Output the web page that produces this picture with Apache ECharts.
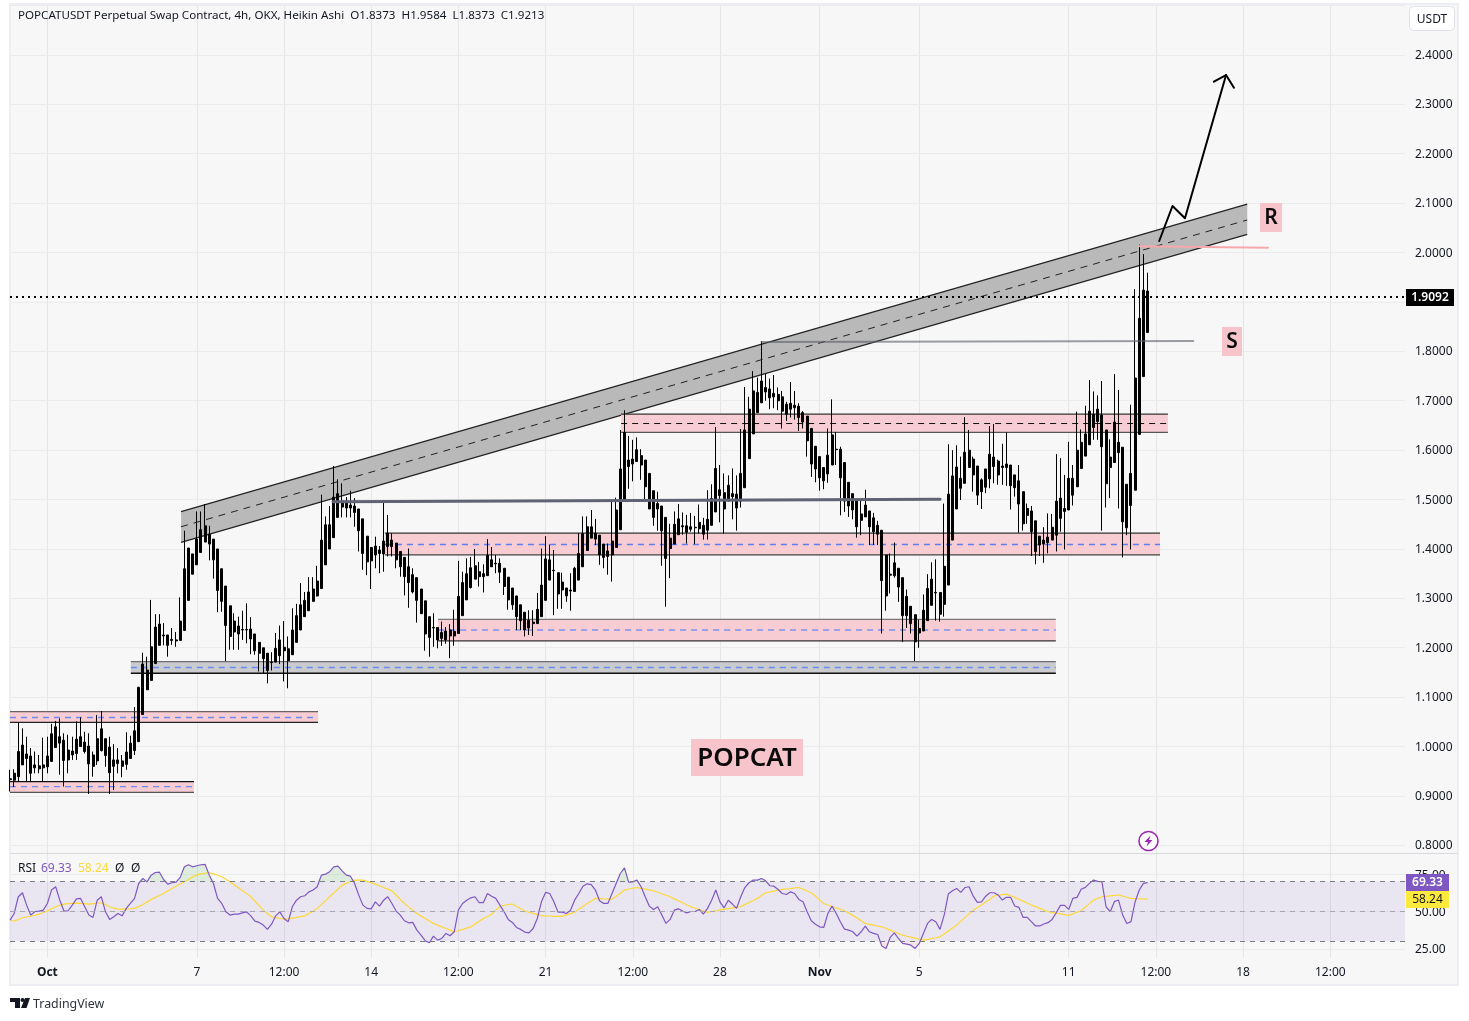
<!DOCTYPE html>
<html>
<head>
  <meta charset="utf-8">
  <title>POPCATUSDT 4h</title>
  <script src="https://cdn.jsdelivr.net/npm/echarts@6/dist/echarts.min.js"></script>
  <style>
    html, body { margin: 0; padding: 0; background: #fff; }
    #chart { width: 1469px; height: 1021px; }
  </style>
</head>
<body>
  <div id="chart"></div>
  <script>
    // candles, 4h Heikin Ashi
    const opens = [
      .932,.931,.938,.962,.984,.980,.962,.960,.956,.958,
      .969,.997,1.019,1.012,.992,.982,.985,.999,1.008,1.000,
      .982,.970,.991,1.015,.998,.972,.965,.970,.963,.975,
      .991,1.009,1.064,1.114,1.133,1.167,1.204,1.225,1.225,1.214,
      1.215,1.214,1.234,1.295,1.389,1.367,1.392,1.413,1.429,1.419,
      1.399,1.359,1.324,1.284,1.231,1.243,1.236,1.235,1.237,1.227,
      1.210,1.199,1.188,1.169,1.170,1.183,1.200,1.197,1.185,1.210,
      1.235,1.262,1.274,1.293,1.304,1.319,1.367,1.399,1.422,1.463,
      1.484,1.493,1.482,1.486,1.480,1.460,1.425,1.402,1.387,1.397,
      1.389,1.404,1.417,1.411,1.394,1.382,1.363,1.347,1.341,1.318,
      1.294,1.262,1.240,1.240,1.218,1.215,1.223,1.232,1.228,1.264,
      1.296,1.321,1.338,1.353,1.349,1.345,1.363,1.369,1.370,1.360,
      1.342,1.320,1.304,1.286,1.271,1.239,1.248,1.248,1.262,1.295,
      1.336,1.355,1.351,1.316,1.320,1.314,1.313,1.336,1.363,1.396,
      1.421,1.419,1.427,1.409,1.384,1.387,1.402,1.438,1.498,1.566,
      1.571,1.576,1.588,1.579,1.552,1.517,1.491,1.486,1.463,1.400,
      1.409,1.428,1.444,1.446,1.439,1.443,1.440,1.447,1.437,1.447,
      1.474,1.507,1.513,1.496,1.505,1.510,1.496,1.523,1.582,1.632,
      1.675,1.695,1.717,1.723,1.714,1.712,1.707,1.692,1.682,1.690,
      1.688,1.675,1.668,1.643,1.607,1.586,1.564,1.551,1.569,1.600,
      1.601,1.574,1.534,1.511,1.496,1.470,1.464,1.476,1.462,1.447,
      1.437,1.387,1.348,1.345,1.360,1.341,1.303,1.283,1.266,1.229,
      1.233,1.254,1.285,1.310,1.311,1.287,1.326,1.417,1.480,1.542,
      1.532,1.564,1.581,1.567,1.515,1.524,1.541,1.585,1.577,1.564,
      1.564,1.569,1.549,1.537,1.515,1.481,1.476,1.456,1.407,1.409,
      1.412,1.417,1.427,1.461,1.481,1.478,1.508,1.525,1.562,1.587,
      1.610,1.672,1.657,1.670,1.640,1.564,1.574,1.615,1.605,1.530,
      1.487,1.518,1.631,1.748,1.8373
    ];
    const closes = [
      .934,.945,.989,1.002,.975,.945,.956,.954,.962,.980,
      1.025,1.039,1.006,.971,.972,.990,1.014,1.019,.989,.964,
      .959,1.015,1.035,.981,.946,.959,.972,.959,.988,1.006,
      1.031,1.119,1.166,1.154,1.201,1.241,1.247,1.223,1.204,1.216,
      1.213,1.253,1.359,1.401,1.348,1.419,1.438,1.446,1.409,1.377,
      1.315,1.293,1.244,1.222,1.253,1.227,1.235,1.236,1.217,1.193,
      1.188,1.177,1.153,1.170,1.198,1.215,1.193,1.173,1.235,1.264,
      1.286,1.295,1.312,1.318,1.334,1.417,1.448,1.448,1.504,1.511,
      1.496,1.482,1.488,1.473,1.436,1.390,1.373,1.375,1.405,1.390,
      1.415,1.431,1.404,1.377,1.363,1.343,1.331,1.312,1.295,1.268,
      1.227,1.220,1.239,1.215,1.230,1.233,1.235,1.223,1.303,1.331,
      1.349,1.361,1.365,1.343,1.343,1.386,1.377,1.370,1.352,1.323,
      1.296,1.286,1.262,1.254,1.235,1.255,1.251,1.277,1.326,1.379,
      1.377,1.356,1.308,1.332,1.304,1.316,1.360,1.390,1.430,1.444,
      1.444,1.431,1.387,1.382,1.395,1.415,1.478,1.561,1.635,1.579,
      1.581,1.600,1.569,1.525,1.480,1.463,1.480,1.436,1.380,1.421,
      1.449,1.460,1.446,1.433,1.444,1.442,1.453,1.429,1.459,1.501,
      1.562,1.519,1.480,1.528,1.511,1.482,1.552,1.640,1.682,1.719,
      1.716,1.739,1.726,1.705,1.707,1.699,1.678,1.672,1.694,1.685,
      1.665,1.656,1.618,1.571,1.561,1.543,1.537,1.589,1.630,1.601,
      1.543,1.496,1.486,1.478,1.444,1.457,1.488,1.444,1.434,1.429,
      1.335,1.304,1.346,1.371,1.322,1.264,1.264,1.248,1.211,1.238,
      1.275,1.319,1.338,1.311,1.267,1.364,1.510,1.547,1.565,1.522,
      1.595,1.599,1.549,1.508,1.539,1.561,1.591,1.566,1.549,1.567,
      1.571,1.527,1.523,1.490,1.450,1.467,1.434,1.394,1.425,1.417,
      1.423,1.443,1.496,1.502,1.475,1.542,1.542,1.599,1.615,1.632,
      1.678,1.645,1.682,1.606,1.531,1.585,1.656,1.594,1.454,1.442,
      1.552,1.745,1.866,1.923,1.9213
    ];
    const lows = [
      .908,.917,.928,.962,.928,.928,.945,.945,.928,.945,
      .969,.997,.942,.918,.945,.972,.972,.999,.985,.903,
      .938,.962,.989,.958,.903,.911,.945,.937,.952,.975,
      .982,1.009,1.064,1.114,1.133,1.167,1.204,1.204,1.181,1.205,
      1.201,1.214,1.234,1.295,1.348,1.367,1.392,1.413,1.376,1.339,
      1.271,1.272,1.172,1.195,1.195,1.195,1.215,1.208,1.186,1.185,
      1.151,1.148,1.127,1.153,1.170,1.166,1.131,1.117,1.185,1.210,
      1.235,1.262,1.274,1.293,1.303,1.319,1.367,1.399,1.422,1.463,
      1.463,1.463,1.463,1.444,1.394,1.357,1.346,1.318,1.360,1.350,
      1.353,1.384,1.384,1.360,1.343,1.305,1.280,1.309,1.250,1.268,
      1.193,1.181,1.201,1.198,1.203,1.207,1.178,1.203,1.228,1.264,
      1.296,1.319,1.338,1.323,1.311,1.345,1.363,1.350,1.330,1.306,
      1.276,1.276,1.235,1.235,1.222,1.225,1.223,1.248,1.262,1.295,
      1.336,1.265,1.278,1.278,1.292,1.274,1.313,1.336,1.363,1.396,
      1.421,1.407,1.367,1.360,1.347,1.333,1.402,1.438,1.498,1.521,
      1.536,1.576,1.539,1.495,1.480,1.446,1.436,1.365,1.282,1.340,
      1.409,1.428,1.428,1.410,1.434,1.409,1.430,1.418,1.418,1.447,
      1.474,1.453,1.430,1.496,1.459,1.436,1.483,1.523,1.582,1.632,
      1.675,1.695,1.699,1.682,1.684,1.680,1.643,1.658,1.665,1.661,
      1.638,1.643,1.586,1.545,1.534,1.517,1.520,1.533,1.569,1.569,
      1.467,1.474,1.464,1.459,1.422,1.427,1.464,1.407,1.407,1.407,
      1.228,1.274,1.309,1.341,1.292,1.211,1.239,1.228,1.172,1.199,
      1.233,1.254,1.285,1.254,1.252,1.262,1.326,1.417,1.480,1.498,
      1.532,1.564,1.515,1.488,1.480,1.512,1.522,1.532,1.529,1.529,
      1.527,1.479,1.505,1.432,1.436,1.450,1.385,1.368,1.385,1.371,
      1.390,1.417,1.394,1.434,1.398,1.478,1.487,1.525,1.562,1.587,
      1.610,1.620,1.620,1.436,1.483,1.502,1.574,1.481,1.382,1.427,
      1.398,1.518,1.631,1.748,1.8373
    ];
    const highs = [
      .952,.953,1.048,1.036,1.019,.996,.989,.982,1.017,1.019,
      1.045,1.051,1.056,1.026,1.023,1.019,1.050,1.058,1.029,1.026,
      .989,1.063,1.071,1.015,1.019,1.004,.996,.982,1.028,1.021,
      1.079,1.120,1.189,1.181,1.296,1.267,1.267,1.249,1.225,1.239,
      1.231,1.301,1.436,1.401,1.389,1.475,1.475,1.490,1.446,1.419,
      1.399,1.359,1.324,1.284,1.269,1.262,1.274,1.289,1.261,1.227,
      1.210,1.199,1.188,1.190,1.229,1.244,1.253,1.222,1.279,1.288,
      1.330,1.312,1.342,1.342,1.365,1.509,1.465,1.486,1.567,1.540,
      1.532,1.504,1.517,1.502,1.480,1.460,1.425,1.403,1.424,1.405,
      1.495,1.468,1.431,1.411,1.394,1.383,1.400,1.360,1.341,1.318,
      1.294,1.262,1.269,1.240,1.252,1.241,1.247,1.276,1.375,1.353,
      1.380,1.383,1.399,1.373,1.368,1.419,1.403,1.387,1.380,1.360,
      1.342,1.320,1.304,1.286,1.271,1.275,1.275,1.310,1.400,1.425,
      1.408,1.397,1.351,1.351,1.320,1.350,1.363,1.431,1.465,1.465,
      1.478,1.460,1.427,1.409,1.410,1.495,1.503,1.640,1.680,1.628,
      1.620,1.625,1.601,1.579,1.552,1.517,1.515,1.486,1.463,1.450,
      1.475,1.490,1.473,1.468,1.472,1.466,1.489,1.462,1.518,1.530,
      1.646,1.569,1.552,1.548,1.562,1.548,1.642,1.727,1.707,1.759,
      1.746,1.820,1.754,1.744,1.751,1.726,1.719,1.697,1.737,1.719,
      1.694,1.678,1.668,1.643,1.607,1.586,1.564,1.643,1.702,1.636,
      1.606,1.574,1.534,1.511,1.496,1.498,1.519,1.476,1.472,1.456,
      1.437,1.387,1.390,1.412,1.360,1.341,1.317,1.283,1.266,1.256,
      1.307,1.348,1.372,1.378,1.311,1.491,1.611,1.599,1.609,1.586,
      1.666,1.640,1.586,1.567,1.542,1.561,1.648,1.652,1.580,1.612,
      1.635,1.569,1.549,1.569,1.515,1.491,1.486,1.456,1.425,1.443,
      1.471,1.470,1.591,1.583,1.549,1.616,1.569,1.677,1.641,1.689,
      1.741,1.718,1.710,1.739,1.640,1.621,1.753,1.721,1.605,1.530,
      1.691,1.925,2.015,1.996,1.9584
    ];

    const rsiValues = [
      44.1,48.6,59.8,62.5,54.2,47.5,49.9,50.2,50.8,55.3,
      64.3,66.5,57.5,50.2,50.4,54.2,58.4,58.7,53.1,47.5,
      45.9,57.5,59.8,49.7,44.6,46.4,48.6,47,52,55.3,
      58.7,68.7,72.1,69.8,74.3,76.1,76.3,71.4,68.3,69.2,
      69.6,72.8,79.9,81.3,79.9,80.6,81.3,81.5,74.3,68.7,
      58.7,55.3,49.7,47.5,48.1,48.1,49,49.7,47,43.4,
      42.6,40.8,37.9,41.4,47,49.7,45.2,43,53.1,57.5,
      59.8,60.5,63.1,64.3,66.5,74.3,75,76.6,79.9,80.4,
      77.2,74.3,73.6,68.7,60.9,54.2,52,51.7,56.4,53.5,
      57.5,59.8,55.3,50.2,47.5,43.7,42.3,42.6,37.4,34,
      30.3,28.9,33.4,30.7,31.8,35.2,33.6,36.3,50.8,55.3,
      57.5,59.1,59.8,55.8,55.8,62,60.2,58.7,54.2,49.7,
      44.6,42.6,39.2,37.9,36.1,35.6,38.5,45.2,56.4,62.7,
      62,56.4,49.5,49.5,48.6,50.8,57.5,62,66.9,68.5,
      68,64.3,57.1,55.3,55.3,62,68.7,75.4,79.2,69.6,
      69.8,71,66.5,59.8,53.5,51.3,53.1,47.5,41.9,44.6,
      50.8,51.7,50.2,49,49.9,49.9,51.3,48.1,52,57.5,
      64.3,56.4,52.4,57.5,54.9,52,59.8,66,69.2,71,
      71,72.1,70.5,67.2,66.9,64.7,62,61.3,63.1,62,
      58,56.4,49.7,43.7,41.4,39.6,39.2,48.6,53.5,48.6,
      43,38.1,37.4,36.3,33.4,36.3,40.1,36.3,35.2,34.5,
      26.7,25.1,32.5,35.6,31.8,28.5,28,27.3,25.1,28.5,
      35.2,41.9,44.6,43,37.9,47.5,61.6,63.8,65.4,62.7,
      66,66.5,60.2,56,56.4,60.2,62.5,62.5,61,57.6,
      59.4,59.4,53.6,52.7,46,46,43.1,40.2,40.2,41.5,
      42.4,44.6,49.1,54,54,51.3,58.7,59.4,64.8,66.1,
      68.8,71,70.1,69.9,53.1,49.8,56.5,57.6,47.5,41.9,
      43.1,56.5,64.3,68.8,69.33
    ];
    const rsiMa = [
      44.6,43.4,44.5,45.7,46.2,46.8,47.4,48.1,49.2,50.2,
      51.7,53.1,54.1,54.9,55.2,55.4,55.5,55.4,55.2,54.9,
      55.2,55.5,55.8,54.6,53.1,52.2,51.5,51.5,51.7,51.8,
      52,53.2,54.6,56.2,58,59.4,60.7,62,63.7,65.3,
      66.9,68.4,69.9,71.4,73,74.5,75.2,75.6,75.9,75.2,
      74.2,73.2,71.5,69.7,67.8,65.9,63.9,61.9,59.8,56.8,
      53.8,50.8,48.6,46.4,45.8,45.2,44.8,45,45.4,46,
      46.5,47,48.5,50.2,52,54.5,57.2,59.8,62.4,65,
      67.6,68.8,70,71,71,71,70.1,69.2,68.3,67.2,
      66,64.9,63.8,61,58,55.3,53,50.8,48.6,46.9,
      45.2,43.6,41.9,40.8,39.6,38.5,37.4,36.3,37,37.9,
      38.8,39.6,41.5,43.3,45.2,46.6,48.1,50.8,53.3,54.1,
      54.6,54.9,53.4,51.8,50.2,49.4,48.7,48,47.2,47,
      46.9,46.7,46.6,46.6,47.6,48.5,49.5,51.5,53.3,55.2,
      57,58.7,58.6,58.4,58.3,58.2,60.2,62.2,64.3,65,
      65.5,66,65.4,64.9,64.4,63.8,62.8,61.8,60.8,59.8,
      58.4,57.1,55.8,54.4,53.1,52.1,51.1,50.2,49.3,49.9,
      50.4,51,51.5,51.9,52.3,52.7,53.1,54.5,55.9,57.3,
      58.7,60.6,62.5,63,63.6,64.2,64.7,65,65.3,65.7,
      66,64.9,63.7,62.5,60.1,57.7,55.3,54.3,53.3,52.3,
      51.4,50.4,48.9,47.3,45.6,43.7,41.9,41.3,40.8,40.2,
      39.6,38.5,37.4,36.2,35.1,34,33.3,32.7,32,31.4,
      30.7,31.2,31.8,32.3,32.9,34.8,36.8,38.8,40.8,43.3,
      45.8,48.3,50.8,52.6,54.3,56.3,58,60.3,60.8,61.2,
      61.6,60.5,59.4,58.1,56.9,55.6,54.3,53.2,52,50.9,
      49.8,49.3,48.8,48.3,47.8,47.3,48.3,49.4,50.4,52.8,
      55.2,57.6,58.7,59.8,60.1,60.4,60.7,61,60.2,59.5,
      58.7,58.5,58.4,58.3,58.24
    ];

    // axes
    const barCount = 337; // bars across the whole plot, the last ones are empty
    const bars = Array.from({ length: barCount }, (_, i) => String(i));
    const timeTickBars = [9, 45, 66, 87, 108, 129, 150, 171, 195, 219, 255, 276, 297, 318];
    const timeTickLabels = ['Oct', '7', '12:00', '14', '12:00', '21', '12:00', '28', 'Nov', '5', '11', '12:00', '18', '12:00'];
    const priceLabels = [2.4, 2.3, 2.2, 2.1, 2.0, 1.8, 1.7, 1.6, 1.5, 1.4, 1.3, 1.2, 1.1, 1.0, 0.9, 0.8];
    const priceLevels = [2.5, 2.4, 2.3, 2.2, 2.1, 2.0, 1.9, 1.8, 1.7, 1.6, 1.5, 1.4, 1.3, 1.2, 1.1, 1.0, 0.9, 0.8];
    const rsiLabels = [75, 50, 25];
    const lastPrice = 1.9092;

    // zones drawn on the chart: bar from/to and prices
    const zoneStart = [0, 0, 29.1, 90.3, 103.1, 147.2];
    const zoneEnd = [74.2, 44.3, 251.9, 277, 251.9, 278.9];
    const zoneTop = [1.0696, 0.928, 1.171, 1.431, 1.2566, 1.672];
    const zoneBottom = [1.048, 0.9065, 1.1475, 1.387, 1.213, 1.635];
    const zoneMid = [1.058, 0.918, 1.159, 1.408, 1.235, 1.653];

    const channelBars = [41.2, 298];
    const channelTop = [1.4745, 2.097];
    const channelBottom = [1.4125, 2.036];
    const channelMid = [1.444, 2.065];

    const midLine = [[77.8, 1.4947], [224, 1.4996]];
    const supportLine = [[181, 1.818], [285, 1.820]];
    const redLine = [[272, 2.012], [303, 2.009]];
    const arrowPath = [[276.8, 2.0225], [280, 2.0933], [283, 2.0684], [292.9, 2.3585]];
    const arrowHead = [[289.97, 2.3449], [292.9, 2.3585], [294.8, 2.3328]];

    const FONT = '"Noto Sans", sans-serif';
    const zoneFill = ['#f7ccd2', '#f7ccd2', '#c9cbcf', '#f7ccd2', '#f7ccd2', '#f7ccd2'];
    const zoneTopEdge = ['#6a6262', '#111', '#6e6e6e', '#333', '#777', '#333'];
    const zoneBottomEdge = ['#222', '#555', '#111', '#444', '#333', '#555'];
    const zoneMidColor = ['#6b8cf2', '#6b8cf2', '#6b8cf2', '#5b7ff0', '#7b93f2', '#111'];
    const zoneMidWidth = [1.4, 1.4, 1.4, 1.4, 1.4, 1];

    function levelLine(params, api) {
      const y = Math.round(api.coord([0, api.value(0)])[1]) + 0.5;
      const c = params.coordSys;
      return { type: 'line', shape: { x1: c.x, y1: y, x2: c.x + c.width, y2: y }, style: { stroke: '#ebebeb', lineWidth: 1 } };
    }

    function seg(api, x1, y1, x2, y2, stroke, lineWidth, lineDash) {
      const a = api.coord([x1, y1]);
      const b = api.coord([x2, y2]);
      return { type: 'line', shape: { x1: a[0], y1: a[1], x2: b[0], y2: b[1] }, style: { stroke, lineWidth, lineDash } };
    }

    function drawZone(params, api) {
      const k = params.dataIndex;
      const s = zoneStart[k], e = zoneEnd[k];
      const a = api.coord([s, zoneTop[k]]);
      const b = api.coord([e, zoneBottom[k]]);
      return {
        type: 'group',
        children: [
          { type: 'rect', shape: { x: a[0], y: a[1], width: b[0] - a[0], height: b[1] - a[1] }, style: { fill: zoneFill[k] } },
          seg(api, s, zoneTop[k], e, zoneTop[k], zoneTopEdge[k], 1.3),
          seg(api, s, zoneBottom[k], e, zoneBottom[k], zoneBottomEdge[k], 1.3),
          seg(api, s, zoneMid[k], e, zoneMid[k], zoneMidColor[k], zoneMidWidth[k], [6, 5])
        ]
      };
    }

    function drawChannel(params, api) {
      const [x0, x1] = channelBars;
      const pts = [
        api.coord([x0, channelTop[0]]), api.coord([x1, channelTop[1]]),
        api.coord([x1, channelBottom[1]]), api.coord([x0, channelBottom[0]])
      ];
      return {
        type: 'group',
        children: [
          { type: 'polygon', shape: { points: pts }, style: { fill: '#b9b9b9' } },
          seg(api, x0, channelTop[0], x1, channelTop[1], '#222', 1.2),
          seg(api, x0, channelBottom[0], x1, channelBottom[1], '#222', 1.2),
          seg(api, x0, channelMid[0], x1, channelMid[1], '#222', 1, [7, 6])
        ]
      };
    }

    function overlayLine(name, data, color, width, type) {
      return {
        name, type: 'line', xAxisIndex: 2, yAxisIndex: 0, data, silent: true,
        showSymbol: false, z: 5, lineStyle: { color, width, type: type || 'solid', cap: type ? 'butt' : 'round', join: 'round' }
      };
    }

    function tag(x, y, w, h, fill, color, text, bold) {
      return [
        { type: 'rect', z: 50, shape: { x, y, width: w, height: h }, style: { fill } },
        { type: 'text', z: 51, style: { x: x + w / 2, y: y + h / 2 + 0.5, text, fill: color, align: 'center', verticalAlign: 'middle', font: (bold ? '600 ' : '') + '12px ' + FONT } }
      ];
    }

    function note(x, y, w, h, text, size) {
      return [
        { type: 'rect', z: 40, shape: { x, y, width: w, height: h }, style: { fill: '#f6c4ca' } },
        { type: 'text', z: 41, style: { x: x + w / 2, y: y + h / 2 + 1, text, fill: '#0b0b0b', align: 'center', verticalAlign: 'middle', font: '600 ' + size + 'px ' + FONT } }
      ];
    }

    function plainText(x, y, text, fill, font) {
      return { type: 'text', z: 30, style: { x, y, text, fill, verticalAlign: 'middle', font: font || '12px ' + FONT } };
    }

    const axisNumber = { padding: [2, 0, 0, 0], color: '#131722', fontFamily: 'Noto Sans', fontSize: 12 };

    const chart = echarts.init(document.getElementById('chart'));
    chart.setOption({
      animation: false,
      backgroundColor: '#ffffff',
      grid: [
        { left: 10, top: 5.1, width: 1395, height: 848.4 },
        { left: 10, top: 854, width: 1395, height: 104 }
      ],
      xAxis: [
        {
          type: 'category', gridIndex: 0, data: bars, boundaryGap: false,
          axisLine: { show: false }, axisTick: { show: false }, axisLabel: { show: false },
          splitLine: { show: true, interval: i => timeTickBars.includes(i), lineStyle: { color: '#e6e6e6' } }
        },
        {
          type: 'category', gridIndex: 1, data: bars, boundaryGap: false,
          axisLine: { show: false }, axisTick: { show: false },
          splitLine: { show: true, interval: i => timeTickBars.includes(i), lineStyle: { color: '#e6e6e6' } },
          axisLabel: {
            interval: i => timeTickBars.includes(i),
            margin: 9,
            formatter: (v, i) => {
              const t = timeTickLabels[timeTickBars.indexOf(i)];
              return (t === 'Oct' || t === 'Nov') ? '{m|' + t + '}' : t;
            },
            color: '#131722', fontFamily: 'Noto Sans', fontSize: 12,
            rich: { m: { fontWeight: 700, color: '#131722', fontFamily: 'Noto Sans', fontSize: 12 } }
          }
        },
        // plain numeric axis over the price pane so the drawings can sit between bars
        { type: 'value', gridIndex: 0, min: 0, max: barCount - 1, show: false, splitLine: { show: false } }
      ],
      yAxis: [
        {
          type: 'value', gridIndex: 0, position: 'right', min: 0.7826, max: 2.5,
          axisLine: { show: false }, axisTick: { show: false }, splitLine: { show: false },
          axisLabel: { customValues: priceLabels, formatter: v => '{n|' + v.toFixed(4) + '}', margin: 10, rich: { n: axisNumber } }
        },
        {
          type: 'value', gridIndex: 1, position: 'right', min: 18.7, max: 88.5,
          axisLine: { show: false }, axisTick: { show: false }, splitLine: { show: false },
          axisLabel: { customValues: rsiLabels, formatter: v => '{n|' + v.toFixed(2) + '}', margin: 10, rich: { n: axisNumber } }
        }
      ],
      series: [
        {
          type: 'custom', name: 'price levels', xAxisIndex: 2, yAxisIndex: 0, z: 0, silent: true,
          data: priceLevels.map(v => [v]), encode: { y: 0 }, renderItem: levelLine
        },
        {
          type: 'custom', name: 'rsi levels', xAxisIndex: 1, yAxisIndex: 1, z: 0, silent: true,
          data: rsiLabels.map(v => [v]), encode: { y: 0 }, renderItem: levelLine
        },
        {
          type: 'custom', name: 'channel', xAxisIndex: 2, yAxisIndex: 0, z: 1, silent: true,
          data: [[channelBars[0], channelMid[0]]], renderItem: drawChannel
        },
        {
          type: 'custom', name: 'zones', xAxisIndex: 2, yAxisIndex: 0, z: 1, silent: true,
          data: zoneStart.map((s, k) => [s, zoneMid[k]]), renderItem: drawZone
        },
        overlayLine('mid line', midLine, '#5f6372', 3),
        overlayLine('support', supportLine, 'rgba(90,93,105,0.6)', 2),
        overlayLine('red line', redLine, '#f7a8ad', 2),
        {
          type: 'candlestick', name: 'POPCATUSDT', xAxisIndex: 0, yAxisIndex: 0, z: 3, silent: true,
          barWidth: 2.5,
          data: opens.map((o, i) => [o, closes[i], lows[i], highs[i]]),
          itemStyle: { color: '#000', color0: '#000', borderColor: '#000', borderColor0: '#000', borderWidth: 1 }
        },
        overlayLine('last price', [[0, lastPrice], [barCount - 1, lastPrice]], '#000', 2, [2, 4]),
        overlayLine('arrow', arrowPath, '#000', 2),
        overlayLine('arrow head', arrowHead, '#000', 2),
        {
          type: 'line', name: 'rsi above 70', xAxisIndex: 1, yAxisIndex: 1, silent: true, showSymbol: false, z: 2,
          data: rsiValues.map(v => Math.max(v, 70)), lineStyle: { width: 0 },
          areaStyle: { origin: 70, color: 'rgba(76,175,80,0.22)' }
        },
        {
          type: 'line', name: 'rsi below 30', xAxisIndex: 1, yAxisIndex: 1, silent: true, showSymbol: false, z: 2,
          data: rsiValues.map(v => Math.min(v, 30)), lineStyle: { width: 0 },
          areaStyle: { origin: 30, color: 'rgba(242,54,69,0.12)' }
        },
        {
          type: 'line', name: 'RSI MA', xAxisIndex: 1, yAxisIndex: 1, silent: true, showSymbol: false, z: 3,
          data: rsiMa, lineStyle: { color: '#fdd835', width: 1.2 }
        },
        {
          type: 'line', name: 'RSI', xAxisIndex: 1, yAxisIndex: 1, silent: true, showSymbol: false, z: 4,
          data: rsiValues, lineStyle: { color: '#7e57c2', width: 1.2 },
          markArea: { silent: true, itemStyle: { color: 'rgba(126,87,194,0.1)' }, data: [[{ yAxis: 70 }, { yAxis: 30 }]] },
          markLine: {
            silent: true, symbol: 'none', label: { show: false },
            lineStyle: { color: '#787b86', type: [5, 5], width: 1 },
            data: [{ yAxis: 70 }, { yAxis: 50, lineStyle: { color: '#a8a6b4', type: [5, 5], width: 1 } }, { yAxis: 30 }]
          }
        }
      ],
      graphic: [
        { type: 'rect', z: -10, shape: { x: 10, y: 4, width: 1448, height: 981 }, style: { fill: '#f7f7f7', stroke: '#eceef3', lineWidth: 2 } },
        { type: 'line', z: 20, shape: { x1: 10, y1: 853.5, x2: 1458, y2: 853.5 }, style: { stroke: '#d8d8de', lineWidth: 1 } },

        plainText(18, 15.5, 'POPCATUSDT Perpetual Swap Contract, 4h, OKX, Heikin Ashi  O1.8373  H1.9584  L1.8373  C1.9213', '#131722', '11.6px ' + FONT),
        plainText(18, 869, 'RSI', '#131722'),
        plainText(41, 869, '69.33', '#7e57c2'),
        plainText(78, 869, '58.24', '#fdd835'),
        plainText(115, 869, 'Ø', '#131722'),
        plainText(131, 869, 'Ø', '#131722'),

        { type: 'rect', z: 30, shape: { x: 1409.5, y: 6.5, width: 45, height: 24, r: 4 }, style: { fill: '#fff', stroke: '#e0e3eb', lineWidth: 1 } },
        { type: 'text', z: 31, style: { x: 1432, y: 19.5, text: 'USDT', fill: '#131722', align: 'center', verticalAlign: 'middle', font: '12px ' + FONT } },

        ...tag(1406, 289, 48, 17, '#000', '#fff', '1.9092', true),
        ...tag(1406, 874, 43, 17, '#7e57c2', '#fff', '69.33', true),
        ...tag(1406, 891, 43, 17, '#fdea3c', '#131722', '58.24', false),

        ...note(691, 739, 112, 37, 'POPCAT', 26),
        ...note(1260, 203, 22, 29, 'R', 21),
        ...note(1222, 327, 20, 29, 'S', 21),

        { type: 'circle', z: 30, shape: { cx: 1148.5, cy: 841, r: 9.5 }, style: { fill: '#fff', stroke: '#9c27b0', lineWidth: 1.6 } },
        { type: 'polygon', z: 31, shape: { points: [[1150.5, 835.5], [1144.5, 842], [1148, 842], [1146.5, 846.5], [1152.5, 840], [1149, 840]] }, style: { fill: '#9c27b0' } },

        { type: 'polygon', z: 30, shape: { points: [[10, 998], [20, 998], [20, 1008], [15, 1008], [15, 1002], [10, 1002]] }, style: { fill: '#131722' } },
        { type: 'circle', z: 30, shape: { cx: 22.5, cy: 1000, r: 2 }, style: { fill: '#131722' } },
        { type: 'polygon', z: 30, shape: { points: [[25, 998], [30, 998], [26.5, 1008], [21, 1008]] }, style: { fill: '#131722' } },
        plainText(33, 1004, 'TradingView', '#30333d', '12.4px ' + FONT)
      ]
    });
  </script>
</body>
</html>
